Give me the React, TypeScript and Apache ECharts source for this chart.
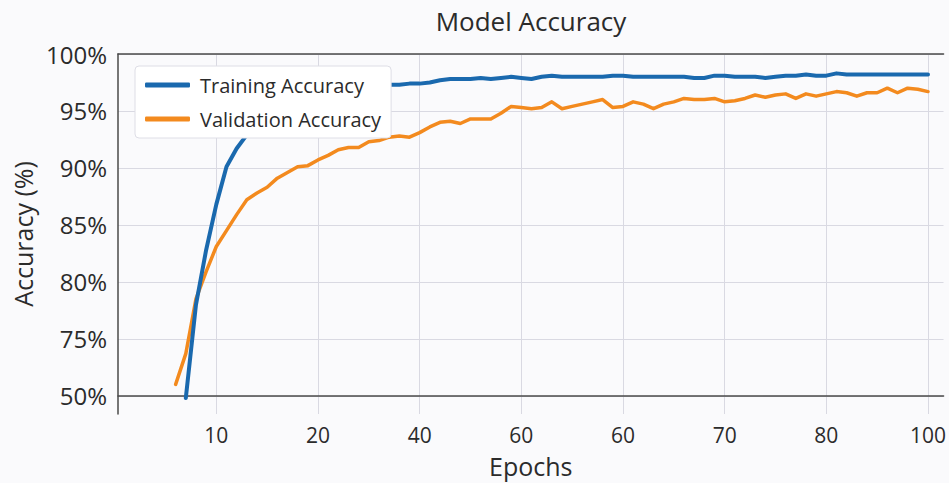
import React, { useEffect, useRef } from "react";
import * as echarts from "echarts";

// Epoch positions on the (irregularly labelled) x axis
const epochs = [
  6, 7, 8, 9, 10, 11, 12, 13, 14, 15, 16, 17, 18, 19, 20, 21, 22, 23, 24, 25,
  26, 27, 28, 29, 30, 31, 32, 33, 34, 35, 36, 37, 38, 39, 40, 41, 42, 43, 44, 45,
  46, 47, 48, 49, 50, 51, 52, 53, 54, 55, 56, 57, 58, 59, 60, 61, 62, 63, 64, 65,
  66, 67, 68, 69, 70, 71, 72, 73, 74, 75, 76, 77, 78, 79, 80,
];

// Accuracy in percent (null = no value at that epoch)
const trainingAccuracy = [
  null, 49.0, 78.0, 82.8, 86.8, 90.1, 91.7, 92.9, 93.7, 94.4, 95.0, 95.5, 95.9, 96.2, 96.5, 96.7,
  96.9, 97.0, 97.1, 97.2, 97.3, 97.3, 97.3, 97.4, 97.4, 97.5, 97.7, 97.8, 97.8, 97.8,
  97.9, 97.8, 97.9, 98.0, 97.9, 97.8, 98.0, 98.1, 98.0, 98.0, 98.0, 98.0, 98.0, 98.1,
  98.1, 98.0, 98.0, 98.0, 98.0, 98.0, 98.0, 97.9, 97.9, 98.1, 98.1, 98.0, 98.0, 98.0,
  97.9, 98.0, 98.1, 98.1, 98.2, 98.1, 98.1, 98.3, 98.2, 98.2, 98.2, 98.2, 98.2, 98.2,
  98.2, 98.2, 98.2,
];

const validationAccuracy = [
  55.0, 68.5, 78.5, 80.9, 83.1, 84.5, 85.9, 87.2, 87.8, 88.3, 89.1, 89.6, 90.1, 90.2, 90.7,
  91.1, 91.6, 91.8, 91.8, 92.3, 92.4, 92.7, 92.8, 92.7, 93.1, 93.6, 94.0, 94.1, 93.9,
  94.3, 94.3, 94.3, 94.8, 95.4, 95.3, 95.2, 95.3, 95.8, 95.2, 95.4, 95.6, 95.8, 96.0,
  95.3, 95.4, 95.8, 95.6, 95.2, 95.6, 95.8, 96.1, 96.0, 96.0, 96.1, 95.8, 95.9, 96.1,
  96.4, 96.2, 96.4, 96.5, 96.1, 96.5, 96.3, 96.5, 96.7, 96.6, 96.3, 96.6, 96.6, 97.0,
  96.6, 97.0, 96.9, 96.7,
];

// Tick labels as printed on the chart
const xTickPositions = [10, 20, 30, 40, 50, 60, 70, 80];
const xTickLabels = ["10", "20", "40", "60", "60", "70", "80", "100"];
const yTickPositions = [0, 1, 2, 3, 4, 5, 6];
const yTickLabels = ["50%", "75%", "80%", "85%", "90%", "95%", "100%"];

// The y axis is broken: 50%..75% occupies one step, then 5% per step
function toAxis(acc: number | null): number | null {
  if (acc === null) return null;
  if (acc >= 75) return 1 + (acc - 75) / 5;
  return (acc - 50) / 25;
}

const FONT = "'Open Sans', 'Noto Sans', sans-serif";
const TEXT = "#2b2b2b";
const GRID = "#d9d9e2";
const AXIS = "#4a4a4a";

export default function App() {
  const ref = useRef<HTMLDivElement>(null);

  useEffect(() => {
    document.body.style.margin = "0";
    if (!ref.current) return;
    const chart = echarts.init(ref.current, null, { renderer: "svg" });

    const trainData = epochs.map((e, i) => [e, toAxis(trainingAccuracy[i])]);
    const valData = epochs.map((e, i) => [e, toAxis(validationAccuracy[i])]);

    chart.setOption({
      animation: false,
      backgroundColor: "#fafafc",
      textStyle: { fontFamily: FONT },
      title: {
        text: "Model Accuracy",
        left: 526,
        top: 3,
        textAlign: "center",
        textStyle: { fontFamily: FONT, fontSize: 26, fontWeight: 500, color: TEXT },
      },
      grid: { left: 118, right: 0, top: 54, bottom: 64, containLabel: false },
      legend: {
        left: 135,
        top: 66,
        orient: "vertical",
        backgroundColor: "#ffffff",
        borderColor: "#dedee6",
        borderWidth: 1,
        borderRadius: 4,
        padding: [9, 10, 9, 10],
        itemGap: 14,
        itemWidth: 45,
        itemHeight: 5,
        icon: "roundRect",
        textStyle: { fontFamily: FONT, fontSize: 20, color: TEXT, padding: [0, 0, 0, 5] },
        data: ["Training Accuracy", "Validation Accuracy"],
      },
      xAxis: [
        {
          type: "value",
          min: 0.33,
          max: 81.53,
          axisLine: { show: true, lineStyle: { color: AXIS, width: 1.5 } },
          axisTick: { show: false, customValues: xTickPositions },
          splitLine: { show: true, lineStyle: { color: GRID, width: 1 } },
          axisLabel: {
            customValues: xTickPositions,
            formatter: (v: number) => xTickLabels[xTickPositions.indexOf(Math.round(v))] ?? "",
            fontFamily: FONT,
            fontSize: 21,
            color: TEXT,
            margin: 10,
          },
          name: "Epochs",
          nameLocation: "middle",
          nameGap: 39,
          nameTextStyle: { fontFamily: FONT, fontSize: 25, color: TEXT },
        },
        {
          type: "value",
          position: "top",
          min: 0.33,
          max: 81.53,
          axisLine: { show: true, lineStyle: { color: AXIS, width: 1.5 } },
          axisTick: { show: false },
          axisLabel: { show: false },
          splitLine: { show: false },
        },
      ],
      yAxis: {
        type: "value",
        min: -0.32,
        max: 6,
        axisLine: { show: true, lineStyle: { color: AXIS, width: 1.5 } },
        axisTick: { show: false, customValues: yTickPositions },
        splitLine: { show: true, lineStyle: { color: GRID, width: 1 } },
        axisLabel: {
          customValues: yTickPositions,
          formatter: (v: number) => yTickLabels[Math.round(v)] ?? "",
          fontFamily: FONT,
          fontSize: 24,
          color: TEXT,
          margin: 11,
        },
        name: "Accuracy (%)",
        nameLocation: "middle",
        nameGap: 82,
        nameTextStyle: { fontFamily: FONT, fontSize: 25, color: TEXT },
      },
      series: [
        {
          name: "Training Accuracy",
          type: "line",
          data: trainData,
          showSymbol: false,
          symbol: "none",
          color: "#1a69ae",
          lineStyle: { width: 4, color: "#1a69ae", cap: "round", join: "round" },
          z: 3,
        },
        {
          name: "Validation Accuracy",
          type: "line",
          data: valData,
          showSymbol: false,
          symbol: "none",
          color: "#f38a1e",
          lineStyle: { width: 3.5, color: "#f38a1e", cap: "round", join: "round" },
          z: 2,
        },
      ],
    });

    return () => chart.dispose();
  }, []);

  return <div ref={ref} style={{ width: 949, height: 483 }} />;
}
